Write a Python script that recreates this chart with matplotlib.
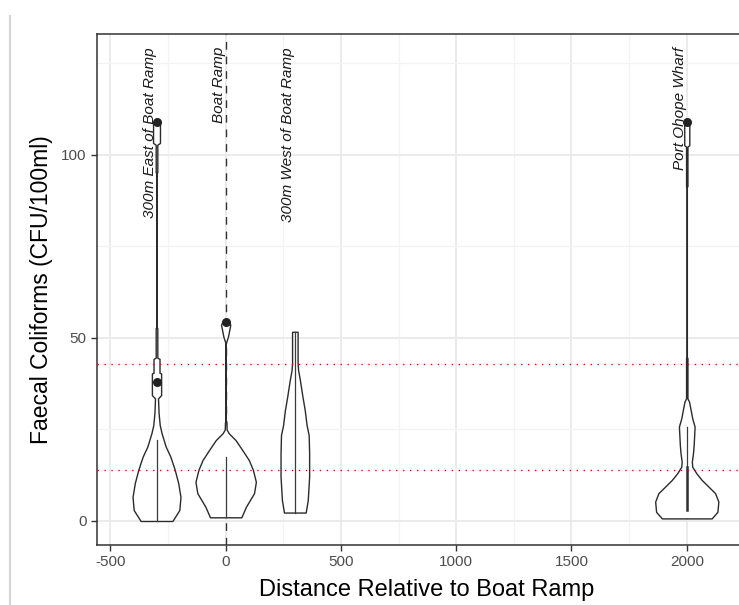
import matplotlib
matplotlib.use("Agg")
import matplotlib.pyplot as plt
from matplotlib.lines import Line2D
import numpy as np

plt.rcParams['font.family'] = ['Liberation Sans', 'DejaVu Sans']
plt.rcParams['axes.unicode_minus'] = False

# Sites: distance relative to the boat ramp (m) and their labels
site_x = [-300, 0, 300, 2000]
site_names = ['300m East of Boat Ramp', 'Boat Ramp', '300m West of Boat Ramp', 'Port Ohope Wharf']

# Violin outlines: faecal coliform level (CFU/100ml) and half-width (x units)
east_y = [0, 3, 6.6, 10.4, 14, 17.6, 20.3, 24, 26.2, 29.5, 33.5, 34.4, 40.3, 40.5, 44.3, 44.6,
          52.7, 53, 95, 95.3, 102.8, 103.3, 108.5, 109.5]
east_w = [69, 99, 104, 94, 79, 60, 40, 22, 14, 9, 6.5, 20, 20, 13, 13, 3.5,
          3.5, 0.4, 0.4, 3.5, 3.5, 15, 15, 8]
ramp_y = [1, 3.9, 7.6, 10.7, 14, 16.7, 19.4, 22.1, 24, 25, 27, 27.5, 48.5, 50.4, 53.6, 54.5]
ramp_w = [68, 88, 123, 131, 118, 100, 72, 43, 13, 4, 3, 0.4, 0.4, 10, 20, 14]
west_y = [2.3, 5.7, 12.1, 18.6, 23.5, 26.2, 30.3, 34, 38.5, 41.3, 43.2, 51.7]
west_w = [47, 56, 62, 62, 60, 51, 43, 33, 22, 14, 12, 12]
wharf_y = [0.7, 2.5, 5.3, 7.6, 9.4, 11.2, 13, 14.8, 16.2, 18.5, 20.8, 25.8, 28, 30.3, 32.6,
           33.5, 44.5, 44.8, 91.3, 91.5, 102.3, 102.7, 108.3, 109.5]
wharf_w = [108, 133, 137, 123, 94, 65, 42, 24, 22, 27, 30, 34, 24, 17, 10,
           3, 3, 0.4, 0.4, 3, 3, 11, 11, 6]
violin_y = [east_y, ramp_y, west_y, wharf_y]
violin_w = [east_w, ramp_w, west_w, wharf_w]

# Box segments (low, high) drawn down the middle of each violin
box_lo = [0, 1, 2.3, 3]
box_hi = [22, 17.6, 51.7, 25.8]

# Outlying samples
outlier_x = [-300, -300, 0, 2000]
outlier_y = [109, 38, 54.5, 109]

# Guideline levels (CFU/100ml)
guide_levels = [14, 43]

fig = plt.figure(figsize=(7.39, 6.05), dpi=100)
ax = fig.add_axes([0.1313, 0.0992, 0.8916, 0.8446])

ax.set_xlim(-558, 2300)
ax.set_ylim(-6.56, 133.06)

ax.set_xticks([-500, 0, 500, 1000, 1500, 2000])
ax.set_xticks([-250, 250, 750, 1250, 1750, 2250], minor=True)
ax.set_yticks([0, 50, 100])
ax.set_yticks([25, 75, 125], minor=True)
ax.grid(which='major', color='#ebebeb', lw=1.4, zorder=0)
ax.grid(which='minor', color='#f3f3f3', lw=0.9, zorder=0)
ax.set_axisbelow(True)

ax.axvline(0, color='#333333', lw=1.0, linestyle=(0, (5.5, 5)), zorder=1)

for cx, vy, vw in zip(site_x, violin_y, violin_w):
    vy = np.array(vy)
    vw = np.array(vw)
    ax.fill_betweenx(vy, cx - vw, cx + vw, facecolor='white', edgecolor='#2b2b2b',
                     lw=1.0, zorder=2)

for cx, lo, hi in zip(site_x, box_lo, box_hi):
    ax.plot([cx, cx], [lo, hi], color='#3a3a3a', lw=0.9, zorder=3)
ax.plot([2000, 2000], [3, 14.8], color='#333333', lw=1.8, zorder=3)

ax.scatter(outlier_x, outlier_y, s=30, color='#222222', zorder=4)

for lvl in guide_levels:
    ax.axhline(lvl, color='red', lw=1.0, linestyle=(0, (1, 4)), zorder=5)

for cx, name in zip(site_x, site_names):
    ax.text(cx, 129.5, name, rotation=90, ha='right', va='top', fontsize=11,
            style='italic', color='#1a1a1a', zorder=6)

for s in ax.spines.values():
    s.set_color('#333333')
    s.set_linewidth(1.1)
ax.tick_params(which='major', length=4, width=1.0, color='#333333',
               labelsize=11, labelcolor='#4d4d4d')
ax.tick_params(which='minor', length=0)

ax.set_xlabel('Distance Relative to Boat Ramp', fontsize=17, labelpad=7)
ax.set_ylabel('Faecal Coliforms (CFU/100ml)', fontsize=16.5, labelpad=6)

# thin frame line down the left edge
fig.add_artist(Line2D([10 / 739, 10 / 739], [0, 1 - 16 / 605], color='#d4d4d4', lw=1.5))

fig.savefig('out.png', dpi=100)
